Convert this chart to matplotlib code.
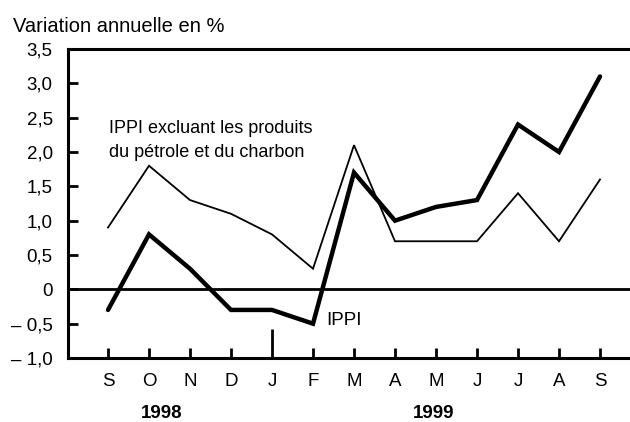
import matplotlib.pyplot as plt
import matplotlib.transforms as mtransforms

plt.rcParams['font.family'] = ['Liberation Sans', 'DejaVu Sans']

months = ['S', 'O', 'N', 'D', 'J', 'F', 'M', 'A', 'M', 'J', 'J', 'A', 'S']
ippi = [-0.3, 0.8, 0.3, -0.3, -0.3, -0.5, 1.7, 1.0, 1.2, 1.3, 2.4, 2.0, 3.1]
ippi_excl = [0.9, 1.8, 1.3, 1.1, 0.8, 0.3, 2.1, 0.7, 0.7, 0.7, 1.4, 0.7, 1.6]
yticks = [-1.0, -0.5, 0, 0.5, 1.0, 1.5, 2.0, 2.5, 3.0, 3.5]
ylabels = ['\u2013 1,0', '\u2013 0,5', '0', '0,5', '1,0', '1,5', '2,0', '2,5', '3,0', '3,5']
years = ['1998', '1999']
year_pos = [1.32, 7.93]

FS = 13.5

fig = plt.figure(figsize=(6.3, 4.22), dpi=100)
ax = fig.add_axes([68 / 630, 1 - 358 / 422, 1 - 68 / 630, 309 / 422])

x = list(range(len(months)))
ax.plot(x, ippi_excl, color='black', lw=1.3, solid_joinstyle='miter')
ax.plot(x, ippi, color='black', lw=3.2, solid_joinstyle='miter', solid_capstyle='round')
ax.axhline(0, color='black', lw=2)

ax.set_xlim(-40 / 41, 522 / 41)
ax.set_ylim(-1.0, 3.5)

for s in ['left', 'top', 'bottom']:
    ax.spines[s].set_linewidth(2.2)
ax.spines['right'].set_visible(False)

ax.set_yticks(yticks)
ax.set_yticklabels(ylabels, fontsize=FS)
ax.tick_params(axis='y', direction='in', length=7, width=2, pad=11)

ax.set_xticks(x)
ax.set_xticklabels(months, fontsize=FS)
ax.tick_params(axis='x', direction='in', length=7, width=2, pad=11)
# longer tick marking the change of year
ax.xaxis.get_major_ticks()[4].tick1line.set_markersize(21)

trans = mtransforms.blended_transform_factory(ax.transData, fig.transFigure)
for yr, px in zip(years, year_pos):
    ax.text(px, 1 - 413 / 422, yr, transform=trans, ha='center', va='center',
            fontsize=FS, fontweight='bold')

fig.text(13 / 630, 1 - 32 / 422, 'Variation annuelle en %', ha='left', va='baseline', fontsize=14.5)
ax.text(0.02, 2.275, 'IPPI excluant les produits', ha='left', va='baseline', fontsize=13)
ax.text(0.02, 1.93, 'du p\u00e9trole et du charbon', ha='left', va='baseline', fontsize=13)
ax.text(5.32, -0.52, 'IPPI', ha='left', va='baseline', fontsize=FS)

fig.savefig('out.png', dpi=100)
